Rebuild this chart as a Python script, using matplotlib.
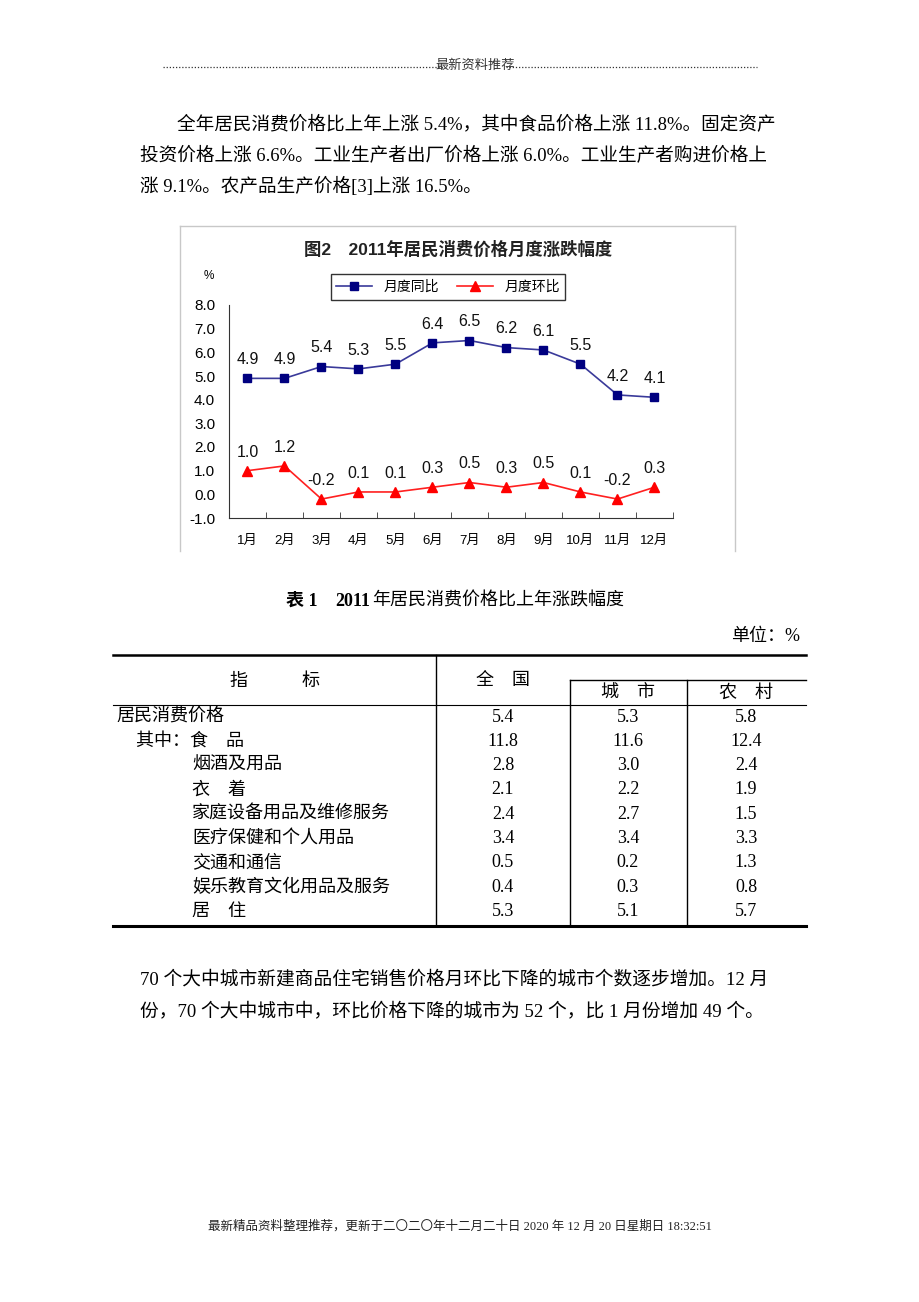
import numpy as np
import matplotlib.pyplot as plt
from matplotlib.lines import Line2D

W, H = 920, 1302

# 数据
months = ["1月", "2月", "3月", "4月", "5月", "6月", "7月", "8月", "9月", "10月", "11月", "12月"]
yoy = [4.9, 4.9, 5.4, 5.3, 5.5, 6.4, 6.5, 6.2, 6.1, 5.5, 4.2, 4.1]
mom = [1.0, 1.2, -0.2, 0.1, 0.1, 0.3, 0.5, 0.3, 0.5, 0.1, -0.2, 0.3]
y_ticks = [-1.0, 0.0, 1.0, 2.0, 3.0, 4.0, 5.0, 6.0, 7.0, 8.0]

row_labels = ["居民消费价格", "其中：食　品", "烟酒及用品", "衣　着", "家庭设备用品及维修服务",
              "医疗保健和个人用品", "交通和通信", "娱乐教育文化用品及服务", "居　住"]
row_indent = [0, 1, 2, 2, 2, 2, 2, 2, 2]
national = [5.4, 11.8, 2.8, 2.1, 2.4, 3.4, 0.5, 0.4, 5.3]
urban = [5.3, 11.6, 3.0, 2.2, 2.7, 3.4, 0.2, 0.3, 5.1]
rural = [5.8, 12.4, 2.4, 1.9, 1.5, 3.3, 1.3, 0.8, 5.7]

para1 = ["全年居民消费价格比上年上涨 5.4%，其中食品价格上涨 11.8%。固定资产",
         "投资价格上涨 6.6%。工业生产者出厂价格上涨 6.0%。工业生产者购进价格上",
         "涨 9.1%。农产品生产价格[3]上涨 16.5%。"]
para2 = ["70 个大中城市新建商品住宅销售价格月环比下降的城市个数逐步增加。12 月",
         "份，70 个大中城市中，环比价格下降的城市为 52 个，比 1 月份增加 49 个。"]

serif = ["Liberation Serif", "Noto Sans CJK SC"]
sans = ["Liberation Sans", "Noto Sans CJK SC"]
plt.rcParams['font.family'] = sans


def fx(x):
    return x / W


def fy(y):
    return 1 - y / H


def ptext(x, y, s, size=14, ha='left', va='center', family=serif, **kw):
    fig.text(fx(x), fy(y), s, fontsize=size, ha=ha, va=va, family=family, **kw)


def hline(x0, x1, y, lw=1.0, color='black', ls='-'):
    fig.add_artist(Line2D([fx(x0), fx(x1)], [fy(y), fy(y)], lw=lw, color=color, ls=ls))


def vline(x, y0, y1, lw=1.0, color='black'):
    fig.add_artist(Line2D([fx(x), fx(x)], [fy(y0), fy(y1)], lw=lw, color=color))


fig = plt.figure(figsize=(9.2, 13.02), dpi=100)

# 页眉
hline(163, 444, 67, lw=0.9, ls=(0, (1, 1.5)), color='#333333')
hline(506, 757, 67, lw=0.9, ls=(0, (1, 1.5)), color='#333333')
ptext(475, 66, "最新资料推荐", size=9.5, ha='center', color='#333333')

# 段落 1
ptext(177, 124, para1[0], size=13.4)
ptext(140, 155, para1[1], size=13.4)
ptext(140, 186, para1[2], size=13.4)

# 图表外框
vline(180, 226, 551, color='#c8c8c8')
vline(735, 226, 551, color='#c8c8c8')
hline(180, 735, 226, color='#c8c8c8')
ptext(458, 249, "图2　2011年居民消费价格月度涨跌幅度", size=12.5, ha='center',
      family=sans, fontweight='bold', color='#222222')
ptext(209, 276, "%", size=8.5, ha='center', family=sans)

ax = fig.add_axes([fx(229), fy(518), 444 / W, 213 / H])
x = np.arange(len(months))
ax.plot(x, yoy, color='#3a3a9a', lw=1.2, marker='s', ms=6,
        mfc='#000080', mec='#000080', label='月度同比')
ax.plot(x, mom, color='#ff2020', lw=1.2, marker='^', ms=6.5,
        mfc='#ff0000', mec='#ff0000', label='月度环比')
for xi, v in zip(x, yoy):
    ax.annotate(f"{v:.1f}", (xi, v), xytext=(0, 8), textcoords='offset points',
                ha='center', va='bottom', fontsize=11.5, color='#111111')
for xi, v in zip(x, mom):
    ax.annotate(f"{v:.1f}", (xi, v), xytext=(0, 8), textcoords='offset points',
                ha='center', va='bottom', fontsize=11.5, color='#111111')
ax.set_xlim(-0.5, len(months) - 0.5)
ax.set_ylim(-1.0, 8.0)
ax.set_yticks(y_ticks)
ax.set_yticklabels([f"{t:.1f}" for t in y_ticks], fontsize=11)
ax.set_xticks(x)
ax.set_xticklabels(months, fontsize=9.5)
ax.set_xticks(np.arange(-0.5, len(months)), minor=True)
ax.tick_params(axis='x', which='major', length=0, pad=12)
ax.tick_params(axis='x', which='minor', length=4, direction='in', color='#333333')
ax.tick_params(axis='y', length=0, pad=10)
for s in ['top', 'right']:
    ax.spines[s].set_visible(False)
ax.spines['left'].set_color('#333333')
ax.spines['bottom'].set_color('#333333')

handles, labels = ax.get_legend_handles_labels()
leg = fig.legend(handles, labels, loc='center', bbox_to_anchor=(fx(448), fy(287)),
                 ncol=2, fontsize=10, frameon=True, fancybox=False, edgecolor='black',
                 handlelength=2.6, columnspacing=1.3, borderpad=0.4)
leg.get_frame().set_linewidth(1.0)

# 表格
ptext(286, 601, "表 1", size=13, fontweight='bold')
ptext(335, 601, "2011", size=13, fontweight='bold')
ptext(372, 601, "年居民消费价格比上年涨跌幅度", size=13)
ptext(800, 636, "单位：%", size=13, ha='right')
hline(113, 806, 655, lw=1.8)
hline(570, 806, 680, lw=1.0)
hline(113, 806, 705, lw=0.8)
hline(113, 806, 926, lw=2.2)
vline(436, 655, 926)
vline(570, 680, 926)
vline(687, 680, 926)
ptext(275, 681, "指　　　标", size=13, ha='center')
ptext(503, 680, "全　国", size=13, ha='center')
ptext(628, 693, "城　市", size=13, ha='center')
ptext(746, 693, "农　村", size=13, ha='center')

indent_x = [116, 136, 192]
for i, lab in enumerate(row_labels):
    yy = 717 + i * 24.3
    ptext(indent_x[row_indent[i]], yy, lab, size=13)
    ptext(503, yy, f"{national[i]:.1f}", size=13, ha='center')
    ptext(628, yy, f"{urban[i]:.1f}", size=13, ha='center')
    ptext(746, yy, f"{rural[i]:.1f}", size=13, ha='center')

# 段落 2
ptext(140, 980, para2[0], size=13.5)
ptext(140, 1011, para2[1], size=13.5)

# 页脚
ptext(460, 1226, "最新精品资料整理推荐，更新于二〇二〇年十二月二十日 2020 年 12 月 20 日星期日 18:32:51",
      size=9, ha='center', color='#222222')

fig.savefig("out.png", dpi=100)
